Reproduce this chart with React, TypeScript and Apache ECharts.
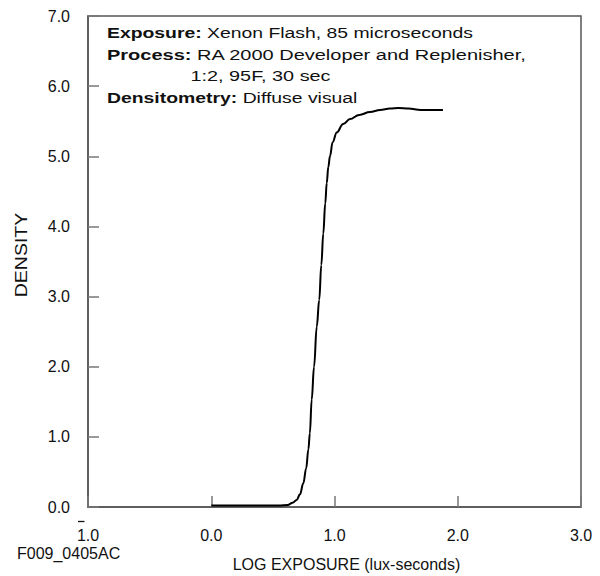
import React, { useEffect, useRef } from "react";
import * as echarts from "echarts";

const xTicks = [-1, 0, 1, 2, 3];
const yTicks = [0, 1, 2, 3, 4, 5, 6, 7];
const logExposure = [
  0.0, 0.3, 0.55, 0.62, 0.66, 0.693, 0.72, 0.747, 0.77, 0.788, 0.8, 0.815, 0.834,
  0.856, 0.876, 0.893, 0.909, 0.925, 0.937, 0.95, 0.963, 0.985, 1.018, 1.07, 1.126,
  1.2, 1.288, 1.37, 1.45, 1.52, 1.6, 1.7, 1.88,
];
const density = [
  0.02, 0.02, 0.02, 0.03, 0.06, 0.1, 0.18, 0.34, 0.55, 0.82, 1.05, 1.53, 2.0,
  2.57, 2.95, 3.45, 3.9, 4.33, 4.62, 4.85, 5.0, 5.2, 5.34, 5.46, 5.53,
  5.59, 5.63, 5.66, 5.68, 5.69, 5.68, 5.66, 5.66,
];
const notes = [
  "{b|Exposure:} Xenon Flash, 85 microseconds",
  "{b|Process:} RA 2000 Developer and Replenisher,",
  "1:2, 95F, 30 sec",
  "{b|Densitometry:} Diffuse visual",
];
const figureId = "F009_0405AC";
const xTitle = "LOG EXPOSURE (lux-seconds)";
const yTitle = "DENSITY";

const FONT = "'Liberation Sans', Arial, Helvetica, sans-serif";

export default function App() {
  const ref = useRef<HTMLDivElement>(null);
  useEffect(() => {
    document.body.style.margin = "0";
    const chart = echarts.init(ref.current!, null, { renderer: "svg" });
    const noteY = [32.8, 54.5, 76.2, 97.9];
    const noteX = [107, 107, 190.5, 107];
    const noteScale = [1.25, 1.29, 1.28, 1.25];
    chart.setOption({
      animation: false,
      backgroundColor: "#ffffff",
      textStyle: { fontFamily: FONT },
      grid: {
        left: 88,
        right: 19,
        top: 16,
        bottom: 69,
        show: true,
        borderColor: "#555",
        borderWidth: 1.5,
        backgroundColor: "transparent",
      },
      xAxis: {
        type: "value",
        min: xTicks[0],
        max: xTicks[xTicks.length - 1],
        interval: 1,
        axisLine: { show: true, onZero: false, lineStyle: { color: "#555", width: 1.5 } },
        axisTick: { show: true, inside: true, length: 11, lineStyle: { color: "#777", width: 1.5 } },
        splitLine: { show: false },
        axisLabel: {
          color: "#111",
          fontSize: 16,
          fontFamily: FONT,
          margin: 20,
          formatter: (v: number) => (v === -1 ? "1.0" : v.toFixed(1)),
        },
      },
      yAxis: {
        type: "value",
        min: yTicks[0],
        max: yTicks[yTicks.length - 1],
        interval: 1,
        axisLine: { show: true, onZero: false, lineStyle: { color: "#555", width: 1.5 } },
        axisTick: { show: true, inside: true, length: 11, lineStyle: { color: "#777", width: 1.5 } },
        splitLine: { show: false },
        axisLabel: {
          color: "#111",
          fontSize: 16,
          fontFamily: FONT,
          margin: 18,
          formatter: (v: number) => v.toFixed(1),
        },
      },
      series: [
        {
          type: "line",
          data: logExposure.map((x, i) => [x, density[i]]),
          showSymbol: false,
          smooth: 0.4,
          smoothMonotone: "x",
          lineStyle: { color: "#000", width: 2 },
          z: 5,
        },
      ],
      graphic: [
        ...notes.map((t, i) => ({
          type: "text",
          x: noteX[i],
          y: noteY[i],
          scaleX: noteScale[i],
          style: {
            text: t,
            fill: "#111",
            fontSize: 15.5,
            fontFamily: FONT,
            verticalAlign: "middle",
            rich: { b: { fontWeight: "bold", fontSize: 15.5, fontFamily: FONT, fill: "#111" } },
          },
        })),
        {
          type: "line",
          shape: { x1: 78, y1: 521.5, x2: 84.5, y2: 521.5 },
          style: { stroke: "#111", lineWidth: 1.3 },
        },
        {
          type: "text",
          x: 17,
          y: 553,
          style: { text: figureId, fill: "#111", fontSize: 16, fontFamily: FONT, verticalAlign: "middle" },
        },
        {
          type: "text",
          x: 346.5,
          y: 564,
          style: { text: xTitle, fill: "#111", fontSize: 16, fontFamily: FONT, align: "center", verticalAlign: "middle" },
        },
        {
          type: "text",
          x: 21.5,
          y: 255,
          rotation: Math.PI / 2,
          scaleX: 1.22,
          style: { text: yTitle, fill: "#111", fontSize: 16, fontFamily: FONT, align: "center", verticalAlign: "middle" },
        },
      ],
    });
    return () => chart.dispose();
  }, []);
  return <div ref={ref} style={{ width: 600, height: 576, position: "fixed", left: 0, top: 0 }} />;
}
